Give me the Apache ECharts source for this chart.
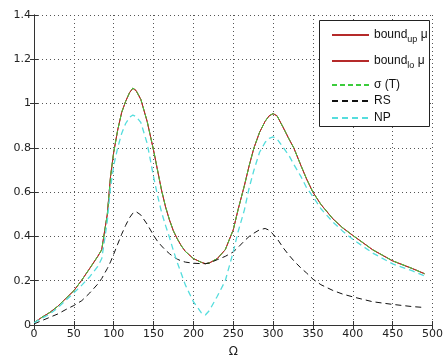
<!DOCTYPE html>
<html><head><meta charset="utf-8">
<script src="https://cdn.jsdelivr.net/npm/echarts@6/dist/echarts.min.js"></script>
<style>html,body{margin:0;padding:0;background:#fff}#c{width:446px;height:363px}</style>
</head><body><div id="c"></div>
<script>
var omega = [0,10,20,30,40,50,60,70,80,85,88,92,96,100,105,110,115,120,124,128,134,142,150,155,160,165,170,175,180,185,190,200,210,215,220,230,240,250,256,264,270,276,283,290,295,300,305,313,320,326,335,342,350,360,375,387,400,425,450,475,490];
var boundUp = [0.01,0.035,0.057,0.085,0.12,0.155,0.203,0.256,0.31,0.34,0.41,0.50,0.67,0.78,0.88,0.96,1.01,1.05,1.07,1.06,1.02,0.92,0.79,0.70,0.61,0.535,0.475,0.425,0.388,0.357,0.332,0.30,0.283,0.277,0.28,0.30,0.34,0.43,0.52,0.63,0.72,0.80,0.87,0.92,0.945,0.955,0.945,0.89,0.84,0.80,0.72,0.66,0.60,0.545,0.48,0.44,0.405,0.34,0.29,0.255,0.232];
var boundLo = [0.01,0.035,0.057,0.085,0.12,0.155,0.203,0.256,0.31,0.34,0.41,0.50,0.67,0.78,0.88,0.96,1.01,1.05,1.068,1.058,1.018,0.918,0.788,0.698,0.608,0.533,0.473,0.423,0.387,0.356,0.332,0.30,0.283,0.277,0.28,0.30,0.34,0.43,0.52,0.63,0.72,0.80,0.87,0.92,0.944,0.954,0.944,0.889,0.839,0.799,0.719,0.659,0.599,0.544,0.479,0.439,0.404,0.339,0.289,0.254,0.231];
var sigmaT = [0.01,0.035,0.057,0.085,0.12,0.155,0.203,0.256,0.31,0.34,0.41,0.50,0.67,0.78,0.88,0.96,1.01,1.05,1.07,1.06,1.02,0.92,0.79,0.70,0.61,0.535,0.475,0.425,0.388,0.357,0.332,0.30,0.283,0.277,0.28,0.30,0.34,0.43,0.52,0.63,0.72,0.80,0.87,0.92,0.945,0.955,0.945,0.89,0.84,0.80,0.72,0.66,0.60,0.545,0.48,0.44,0.405,0.34,0.29,0.255,0.232];
var rs = [0.005,0.02,0.035,0.05,0.07,0.088,0.11,0.145,0.185,0.21,0.23,0.255,0.285,0.32,0.365,0.41,0.45,0.485,0.505,0.512,0.497,0.455,0.405,0.378,0.357,0.338,0.322,0.308,0.297,0.289,0.284,0.279,0.277,0.277,0.28,0.295,0.31,0.33,0.35,0.38,0.40,0.415,0.43,0.436,0.428,0.41,0.39,0.347,0.315,0.29,0.257,0.235,0.207,0.182,0.156,0.14,0.127,0.105,0.093,0.083,0.079];
var np = [0.01,0.03,0.05,0.078,0.112,0.145,0.18,0.218,0.265,0.30,0.37,0.47,0.62,0.72,0.80,0.865,0.91,0.938,0.948,0.942,0.915,0.82,0.67,0.585,0.51,0.45,0.395,0.335,0.28,0.23,0.18,0.105,0.055,0.045,0.065,0.13,0.20,0.33,0.42,0.52,0.62,0.70,0.78,0.825,0.843,0.85,0.84,0.80,0.765,0.725,0.67,0.62,0.58,0.525,0.465,0.425,0.387,0.325,0.276,0.244,0.222];
var seriesNames = ['bound_up μ','bound_lo μ','σ (T)','RS','NP'];
var xTicks = {min:0,max:500,interval:50};
var yTicks = {min:0,max:1.4,interval:0.2};

function pairs(ys){return omega.map(function(x,i){return [x,ys[i]];});}
var FONT = 'DejaVu Sans, Verdana, sans-serif';
var LFONT = 'Liberation Sans, Arial, sans-serif';
var chart = echarts.init(document.getElementById('c'), null, {renderer:'canvas'});
var axisCommon = {
  axisLine:{show:true,lineStyle:{color:'#333',width:1}},
  axisTick:{show:true,inside:true,length:4,lineStyle:{color:'#333'}},
};
var rowY = [30,56,80,96,113];
var fmtMap = {
  'bound_up μ':'{a|bound}{s|up}{a| μ}',
  'bound_lo μ':'{a|bound}{s|lo}{a| μ}',
  'σ (T)':'{a|σ (T)}','RS':'{a|RS}','NP':'{a|NP}'
};
var legends = seriesNames.map(function(n,i){
  return {
    data:[n], left:326, top:rowY[i]-9, itemWidth:37, itemHeight:18, itemGap:0, z:60,
    selectedMode:false,
    itemStyle:{opacity:0,borderWidth:0},
    formatter:function(name){return fmtMap[name];},
    textStyle:{padding:0,lineHeight:18,rich:{
      a:{fontSize:12,fontFamily:LFONT,color:'#111',lineHeight:18},
      s:{fontSize:9,fontFamily:LFONT,color:'#111',verticalAlign:'bottom'}
    }}
  };
});
function ser(name,data,color,type,w,z){
  return {name:name,type:'line',data:pairs(data),symbol:'none',showSymbol:false,smooth:false,z:z,
    lineStyle:{color:color,width:w,type:type},itemStyle:{color:color},animation:false};
}
chart.setOption({
  animation:false,
  backgroundColor:'#fff',
  grid:{left:34,right:9,top:15,bottom:32,containLabel:false},
  graphic:[{type:'rect',left:319,top:20,z:50,shape:{width:110,height:106},style:{fill:'#fff',stroke:'#222',lineWidth:1}}],
  legend:legends,
  xAxis:[
    Object.assign({type:'value',min:xTicks.min,max:xTicks.max,interval:xTicks.interval,position:'bottom',
      name:'Ω',nameLocation:'middle',nameGap:21,nameTextStyle:{fontSize:12,fontFamily:FONT,color:'#222'},
      axisLabel:{fontSize:11,fontFamily:FONT,color:'#222',margin:4},
      splitLine:{show:true,lineStyle:{color:'#555',type:[1,3],width:1}}},axisCommon),
    Object.assign({type:'value',min:xTicks.min,max:xTicks.max,interval:xTicks.interval,position:'top',
      axisLabel:{show:false},splitLine:{show:false}},axisCommon)
  ],
  yAxis:[
    Object.assign({type:'value',min:yTicks.min,max:yTicks.max,interval:yTicks.interval,position:'left',
      axisLabel:{fontSize:11,fontFamily:FONT,color:'#222',margin:3},
      splitLine:{show:true,lineStyle:{color:'#555',type:[1,3],width:1}}},axisCommon),
    Object.assign({type:'value',min:yTicks.min,max:yTicks.max,interval:yTicks.interval,position:'right',
      axisLabel:{show:false},splitLine:{show:false}},axisCommon)
  ],
  series:[
    ser(seriesNames[0],boundUp,'#b52a2a','solid',1,2),
    ser(seriesNames[1],boundLo,'#b52a2a','solid',1,2),
    ser(seriesNames[2],sigmaT,'#3ccc3c',[5,3],1,3),
    ser(seriesNames[3],rs,'#111',[6,4],1,3),
    ser(seriesNames[4],np,'#55dddd',[6,4],1.3,4)
  ]
});
</script></body></html>
